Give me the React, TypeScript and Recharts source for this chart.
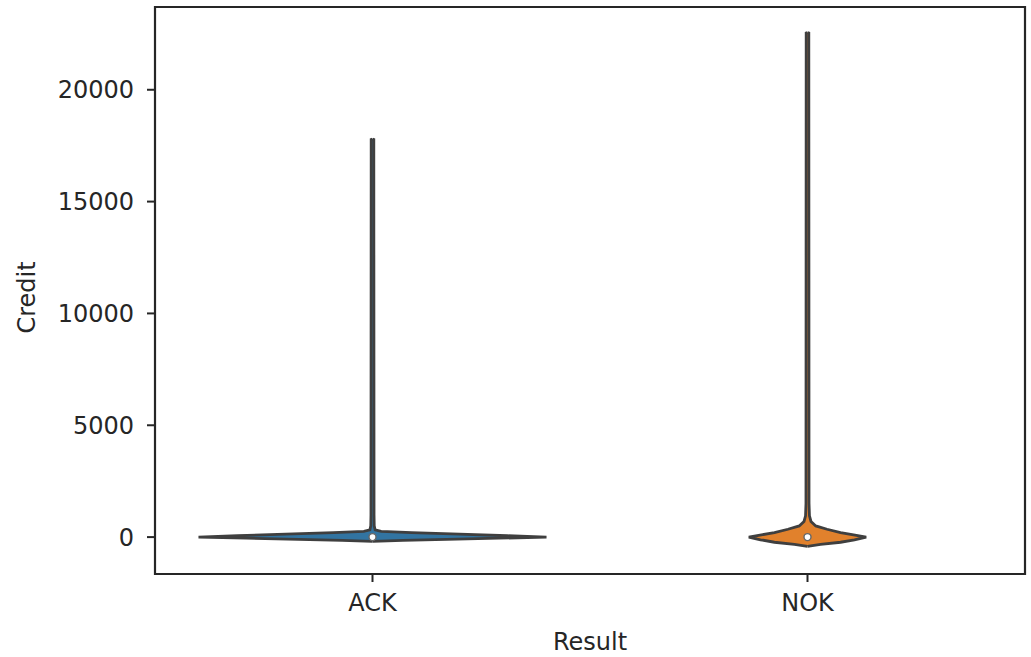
import React from 'react';
import { ComposedChart, Area, XAxis, YAxis, ReferenceArea, ReferenceDot } from 'recharts';

const categories = ['ACK', 'NOK'];
const yTicks = [0, 5000, 10000, 15000, 20000];
const yDomain: [number, number] = [-1650, 23700];
const xDomain: [number, number] = [-0.5, 1.5];

// Violin outlines: Credit levels and density half-widths (in category units)
const ackLevels = [-190, -150, -100, -50, 0, 60, 130, 200, 260, 320, 500, 1000, 17000, 17780, 17800];
const ackHalfWidths = [0, 0.07, 0.17, 0.29, 0.4, 0.31, 0.2, 0.09, 0.02, 0.006, 0.004, 0.0035, 0.003, 0.003, 0];

const nokLevels = [-410, -330, -230, -120, 0, 100, 200, 350, 500, 700, 950, 1500, 22000, 22540, 22560];
const nokHalfWidths = [0, 0.03, 0.076, 0.108, 0.135, 0.106, 0.076, 0.045, 0.019, 0.008, 0.0045, 0.0035, 0.003, 0.003, 0];

const medians = [0, 0];
const fills = ['#3274a1', '#e1812c'];

const buildViolin = (center: number, levels: number[], widths: number[]) =>
  levels.map((v, i) => ({ v, range: [center - widths[i], center + widths[i]] }));

const ackData = buildViolin(0, ackLevels, ackHalfWidths);
const nokData = buildViolin(1, nokLevels, nokHalfWidths);

const FONT = '"DejaVu Sans", sans-serif';
const INK = '#262626';

export default function App() {
  return (
    <div style={{ position: 'absolute', left: 0, top: 0, width: 1031, height: 657, background: '#fff' }}>
      <ComposedChart
        width={1031}
        height={657}
        layout="vertical"
        margin={{ top: 7, right: 6, bottom: 0, left: 0 }}
      >
        <XAxis
          type="number"
          domain={xDomain}
          ticks={[0, 1]}
          allowDataOverflow
          tickFormatter={(i: number) => categories[i]}
          height={83}
          axisLine={false}
          tickSize={8}
          tickMargin={12}
          tickLine={{ stroke: INK, strokeWidth: 2 }}
          tick={{ fill: INK, fontSize: 24, fontFamily: FONT }}
          label={{ value: 'Result', position: 'insideBottom', offset: 7, fill: INK, fontSize: 24, fontFamily: FONT }}
        />
        <YAxis
          type="number"
          dataKey="v"
          domain={yDomain}
          ticks={yTicks}
          reversed
          allowDataOverflow
          width={155}
          axisLine={false}
          tickSize={8}
          tickMargin={13}
          tickLine={{ stroke: INK, strokeWidth: 2 }}
          tick={{ fill: INK, fontSize: 24, fontFamily: FONT }}
          label={{ value: 'Credit', angle: -90, position: 'center', dx: -51, dy: 7, fill: INK, fontSize: 24, fontFamily: FONT }}
        />
        <Area
          data={ackData}
          dataKey="range"
          type="linear"
          fill={fills[0]}
          fillOpacity={1}
          stroke="#3f3f3f"
          strokeWidth={2.8}
          isAnimationActive={false}
        />
        <Area
          data={nokData}
          dataKey="range"
          type="linear"
          fill={fills[1]}
          fillOpacity={1}
          stroke="#3f3f3f"
          strokeWidth={2.8}
          isAnimationActive={false}
        />
        {medians.map((m, i) => (
          <ReferenceDot key={i} x={i} y={m} r={3.5} fill="#ffffff" stroke="#666" strokeWidth={1.4} />
        ))}
        <ReferenceArea
          x1={xDomain[0]}
          x2={xDomain[1]}
          y1={yDomain[0]}
          y2={yDomain[1]}
          fill="none"
          fillOpacity={0}
          stroke={INK}
          strokeWidth={2.2}
        />
      </ComposedChart>
    </div>
  );
}
